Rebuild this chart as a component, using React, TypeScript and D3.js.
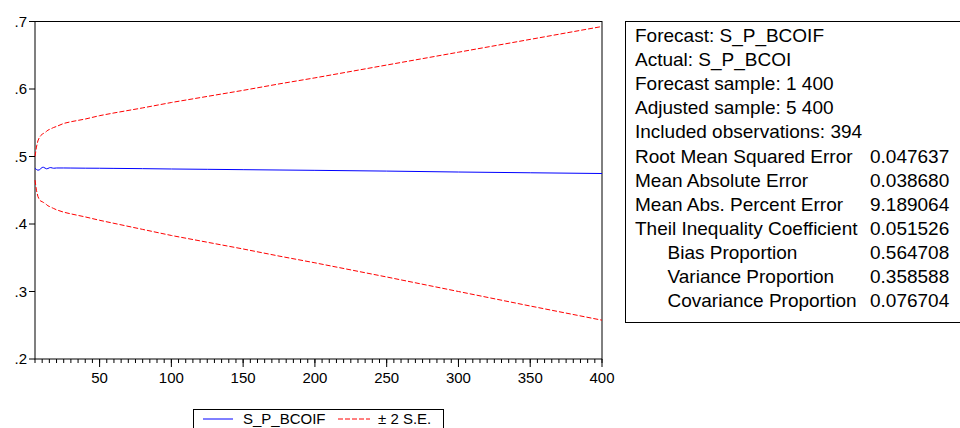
import React from "react";
import * as d3 from "d3";

const W = 960;
const H = 428;

// Observation index for each read-off point
const obs = [5, 6, 7, 8, 9, 10, 11, 12, 13, 14, 15, 16, 17, 18, 20, 25, 30, 40, 50, 60, 80, 100, 125, 150, 175, 200, 250, 300, 350, 400];
// Forecast S_P_BCOIF
const forecast = [0.4825, 0.4808, 0.4797, 0.4802, 0.482, 0.4838, 0.484, 0.4828, 0.4818, 0.4822, 0.4833, 0.4836, 0.483, 0.4826, 0.483, 0.483, 0.4829, 0.4827, 0.4826, 0.4824, 0.482, 0.4815, 0.481, 0.4805, 0.48, 0.4795, 0.4784, 0.477, 0.4759, 0.4748];
// Upper band (+2 S.E.)
const upper = [0.5, 0.514, 0.523, 0.528, 0.531, 0.533, 0.5343, 0.5355, 0.5372, 0.539, 0.54, 0.541, 0.542, 0.543, 0.5445, 0.549, 0.5515, 0.5555, 0.5605, 0.5645, 0.572, 0.58, 0.589, 0.598, 0.6075, 0.6165, 0.6355, 0.6545, 0.6735, 0.6926];
// Lower band (-2 S.E.)
const lower = [0.465, 0.45, 0.441, 0.436, 0.434, 0.433, 0.4318, 0.4305, 0.4288, 0.427, 0.426, 0.425, 0.424, 0.423, 0.421, 0.4175, 0.415, 0.4105, 0.4055, 0.401, 0.392, 0.383, 0.373, 0.363, 0.3525, 0.3425, 0.3215, 0.3, 0.2785, 0.2575];

const yTicks = [0.2, 0.3, 0.4, 0.5, 0.6, 0.7];
const xMajorTicks = [50, 100, 150, 200, 250, 300, 350, 400];
const xMinorStep = 5;

const statsLabels = [
  "Forecast: S_P_BCOIF",
  "Actual: S_P_BCOI",
  "Forecast sample: 1 400",
  "Adjusted sample: 5 400",
  "Included observations: 394",
  "Root Mean Squared Error",
  "Mean Absolute Error",
  "Mean Abs. Percent Error",
  "Theil Inequality Coefficient",
  "Bias Proportion",
  "Variance Proportion",
  "Covariance Proportion",
];
const statsValues = ["", "", "", "", "", "0.047637", "0.038680", "9.189064", "0.051526", "0.564708", "0.358588", "0.076704"];
const statsIndent = [false, false, false, false, false, false, false, false, false, true, true, true];

const legendItems = ["S_P_BCOIF", "± 2 S.E."];

const FONT = "'Liberation Sans', Arial, sans-serif";

export default function App() {
  const left = 35, right = 602, top = 21.5, bottom = 359;
  const x = d3.scaleLinear().domain([5, 400]).range([left, right]);
  const y = d3.scaleLinear().domain([0.2, 0.7]).range([bottom, top]);

  const mk = (vals: number[]) =>
    d3.line<number>().x((_, i) => x(obs[i])).y((v) => y(v))(vals) || "";

  const minor = d3.range(5, 401, xMinorStep);
  const fmtY = (v: number) => d3.format(".1f")(v).replace(/^0/, "");

  const sx = 625, sTop = 21, sBottom = 322;
  const lineH = 24.1;

  return (
    <svg
      width={W}
      height={H}
      style={{ position: "absolute", left: 0, top: 0, background: "#fff" }}
      fontFamily={FONT}
    >
      <rect x={0} y={0} width={W} height={H} fill="#fff" />
      {/* plot frame */}
      <rect x={left} y={top} width={right - left} height={bottom - top} fill="none" stroke="#000" strokeWidth={1} />
      {/* series */}
      <path d={mk(upper)} fill="none" stroke="#ff0000" strokeWidth={1} strokeDasharray="5,2" />
      <path d={mk(lower)} fill="none" stroke="#ff0000" strokeWidth={1} strokeDasharray="5,2" />
      <path d={mk(forecast)} fill="none" stroke="#0000ff" strokeWidth={1} />
      {/* y axis */}
      {yTicks.map((t) => (
        <g key={t}>
          <line x1={left - 6} x2={left} y1={y(t)} y2={y(t)} stroke="#000" />
          <text x={left - 8} y={y(t)} dy="0.36em" textAnchor="end" fontSize={15} fill="#000">
            {fmtY(t)}
          </text>
        </g>
      ))}
      {/* x axis minor ticks */}
      {minor.map((t) => (
        <line key={"m" + t} x1={x(t)} x2={x(t)} y1={bottom} y2={bottom + 4} stroke="#000" />
      ))}
      {xMajorTicks.map((t) => (
        <g key={t}>
          <line x1={x(t)} x2={x(t)} y1={bottom} y2={bottom + 8} stroke="#000" />
          <text x={x(t)} y={bottom + 24} textAnchor="middle" fontSize={15} fill="#000">
            {t}
          </text>
        </g>
      ))}
      {/* legend */}
      <rect x={193.5} y={409.5} width={250} height={30} fill="#fff" stroke="#000" strokeWidth={1} />
      <line x1={203} x2={233} y1={419} y2={419} stroke="#0000ff" />
      <text x={243} y={424} fontSize={15} fill="#000">{legendItems[0]}</text>
      <line x1={338} x2={370} y1={419} y2={419} stroke="#ff0000" strokeDasharray="5,2" />
      <text x={378} y={424} fontSize={15} fill="#000">{legendItems[1]}</text>
      {/* stats box */}
      <rect x={sx + 0.5} y={sTop + 0.5} width={400} height={sBottom - sTop} fill="#fff" stroke="#000" strokeWidth={1} />
      {statsLabels.map((s, i) => (
        <g key={s}>
          <text x={statsIndent[i] ? 667.5 : 635} y={42 + i * lineH} fontSize={19} fill="#000">
            {s}
          </text>
          {statsValues[i] && (
            <text x={870} y={42 + i * lineH} fontSize={19} fill="#000">
              {statsValues[i]}
            </text>
          )}
        </g>
      ))}
    </svg>
  );
}
